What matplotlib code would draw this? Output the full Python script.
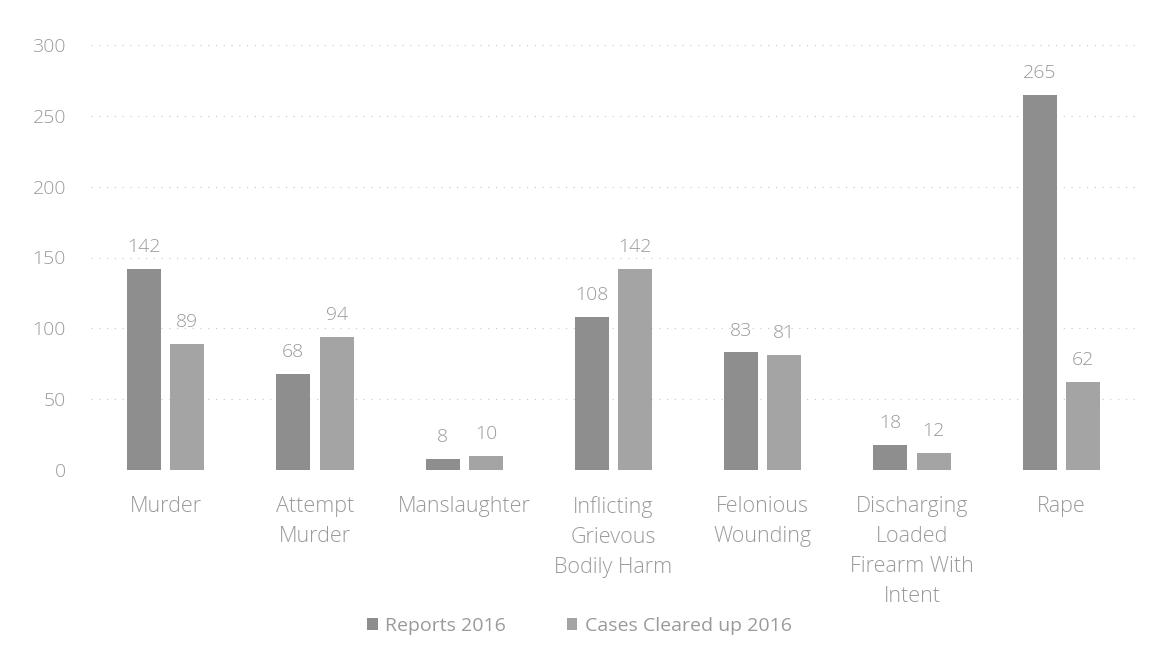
import numpy as np
import matplotlib.pyplot as plt

categories = ["Murder", "Attempt\nMurder", "Manslaughter", "Inflicting\nGrievous\nBodily Harm",
              "Felonious\nWounding", "Discharging\nLoaded\nFirearm With\nIntent", "Rape"]
reports_2016 = [142, 68, 8, 108, 83, 18, 265]
cleared_2016 = [89, 94, 10, 142, 81, 12, 62]

plt.rcParams['font.family'] = ['Open Sans', 'DejaVu Sans']
txt = '#9a9a9a'
fs = 14

fig = plt.figure(figsize=(11.59, 6.58), dpi=100)
ax = fig.add_axes([91 / 1159, 1 - 470 / 658, (1136 - 91) / 1159, 425 / 658])

x = np.arange(len(categories))
w = 0.228
off = 0.145
b1 = ax.bar(x - off, reports_2016, w, color='#8e8e8e', label='Reports 2016')
b2 = ax.bar(x + off, cleared_2016, w, color='#a4a4a4', label='Cases Cleared up 2016')

for bars, vals in ((b1, reports_2016), (b2, cleared_2016)):
    for r, v in zip(bars, vals):
        ax.text(r.get_x() + r.get_width() / 2, v + 9, str(v), ha='center', va='bottom',
                color=txt, fontsize=fs, fontweight='light')

ax.set_xlim(-0.5, len(categories) - 0.5)
ax.set_ylim(0, 300)
ax.set_yticks(range(0, 301, 50))
ax.yaxis.grid(True, linestyle=(0, (1, 6)), color='#c8c8c8', linewidth=0.8)
ax.set_axisbelow(True)
ax.set_xticks(x)
ax.set_xticklabels(categories, linespacing=1.55, fontsize=15.5)
ax.tick_params(axis='both', length=0, colors=txt)
ax.tick_params(axis='y', pad=18, labelsize=fs)
ax.tick_params(axis='x', pad=19)
for s in ax.spines.values():
    s.set_visible(False)

for lab in ax.get_xticklabels() + ax.get_yticklabels():
    lab.set_fontweight('light')

leg = fig.legend(loc='center', bbox_to_anchor=(0.5, 1 - 626 / 658), ncol=2, frameon=False,
                 fontsize=fs, handlelength=0.55, handleheight=0.55, handletextpad=0.4,
                 columnspacing=3.1, labelcolor=txt)

fig.savefig('out.png', dpi=100, facecolor='white')
